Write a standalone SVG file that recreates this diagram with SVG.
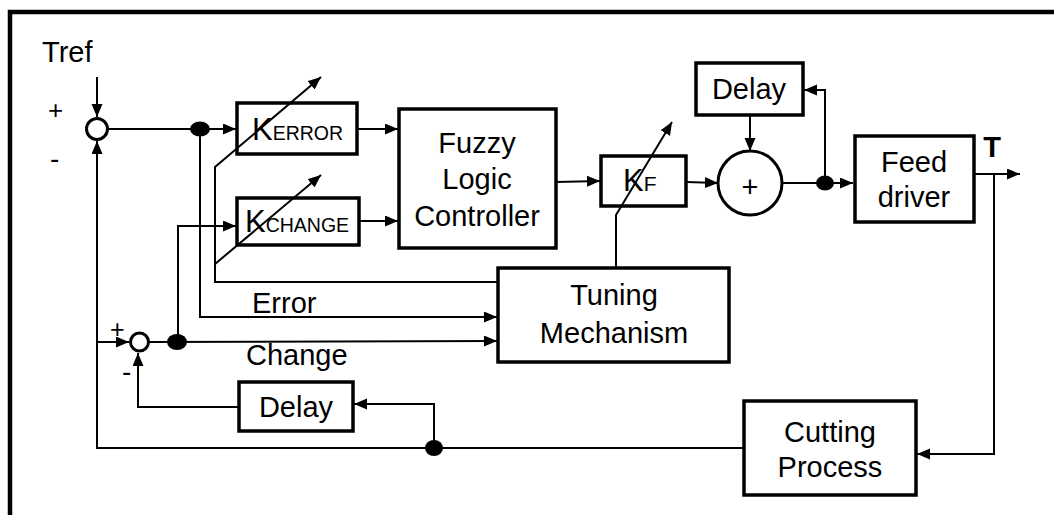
<svg xmlns="http://www.w3.org/2000/svg" width="1054" height="515" viewBox="0 0 1054 515">
<defs>
<marker id="ah" markerUnits="userSpaceOnUse" markerWidth="14" markerHeight="12" refX="13" refY="5.5" orient="auto">
<path d="M0,0 L13,5.5 L0,11 z" fill="#000"/>
</marker>
<style>
.box{fill:#fff;stroke:#000;stroke-width:3.5}
.ln{fill:none;stroke:#000;stroke-width:2}
.arr{fill:none;stroke:#000;stroke-width:2;marker-end:url(#ah)}
.t{font-family:"Liberation Sans",Arial,Helvetica,sans-serif;font-size:29px;fill:#000}
.c{text-anchor:middle}
.dot{fill:#000}
</style>
</defs>
<rect x="0" y="0" width="1054" height="515" fill="#fff"/>
<rect x="10" y="12" width="1070" height="530" fill="none" stroke="#000" stroke-width="4.5"/>

<g id="tref">
<text class="t" x="42" y="62">Tref</text>
<text class="t" x="48" y="119" style="font-size:26px">+</text>
<text class="t" x="50" y="168" style="font-size:28px">-</text>
</g>
<g id="sum1"><circle cx="97" cy="129" r="10.5" fill="#fff" stroke="#000" stroke-width="3"/></g>
<g id="sum2">
<circle cx="139.5" cy="342" r="9" fill="#fff" stroke="#000" stroke-width="3"/>
<text class="t" x="110" y="338" style="font-size:25px">+</text>
<text class="t" x="122" y="381" style="font-size:28px">-</text>
</g>
<g id="kerror">
<rect class="box" x="237" y="103" width="120" height="51"/>
<text class="t" x="252" y="140" style="font-size:31px">K<tspan style="font-size:19.5px">ERROR</tspan></text>
</g>
<g id="kchange">
<rect class="box" x="237" y="198" width="122" height="47"/>
<text class="t" x="245" y="232" style="font-size:31px">K<tspan style="font-size:19.5px">CHANGE</tspan></text>
</g>
<g id="fuzzy">
<rect class="box" x="399" y="109" width="157" height="139"/>
<text class="t c" x="477" y="153">Fuzzy</text>
<text class="t c" x="477" y="189">Logic</text>
<text class="t c" x="477" y="226">Controller</text>
</g>
<g id="kf">
<rect class="box" x="601" y="156" width="85" height="50"/>
<text class="t" x="623" y="191" style="font-size:31px">K<tspan style="font-size:21px">F</tspan></text>
</g>
<g id="sum3">
<circle cx="750" cy="183" r="32" fill="#fff" stroke="#000" stroke-width="3"/>
<text class="t c" x="750" y="197">+</text>
</g>
<g id="delay1">
<rect class="box" x="696" y="63" width="107" height="52"/>
<text class="t c" x="749" y="99">Delay</text>
</g>
<g id="feed">
<rect class="box" x="855" y="136" width="119" height="86"/>
<text class="t c" x="914" y="172">Feed</text>
<text class="t c" x="914" y="207">driver</text>
</g>
<g id="tlabel"><text class="t c" x="992" y="157" style="font-weight:bold">T</text></g>
<g id="tuning">
<rect class="box" x="498" y="268" width="231" height="94"/>
<text class="t c" x="614" y="305">Tuning</text>
<text class="t c" x="614" y="343">Mechanism</text>
</g>
<g id="labels">
<text class="t" x="252" y="313">Error</text>
<text class="t" x="246" y="365">Change</text>
</g>
<g id="delay2">
<rect class="box" x="239" y="382" width="114" height="49"/>
<text class="t c" x="296" y="417">Delay</text>
</g>
<g id="cutting">
<rect class="box" x="744" y="401" width="172" height="94"/>
<text class="t c" x="830" y="442">Cutting</text>
<text class="t c" x="830" y="477">Process</text>
</g>

<g id="connectors">
<path class="arr" d="M97,77 L97,117"/>
<path class="arr" d="M97,448 L97,141"/>
<path class="ln" d="M108,129 L200,129"/>
<path class="arr" d="M200,129 L236,129"/>
<path class="arr" d="M200,129 L200,318 M200,317 L497,317"/>
<path class="arr" d="M357,129 L398,129"/>
<path class="arr" d="M359,221 L398,221"/>
<path class="arr" d="M178,342 L178,226 L236,226"/>
<path class="arr" d="M149,342 L497,341"/>
<path class="arr" d="M97,342 L129,342"/>
<path class="arr" d="M497,282 L215,282 L215,167 L321,77"/>
<path class="arr" d="M215,264 L321,175"/>
<path class="arr" d="M556,182 L600,181"/>
<path class="arr" d="M616,267 L616,215 L672,122"/>
<path class="arr" d="M686,182 L718,183"/>
<path class="arr" d="M750,115 L750,151"/>
<path class="arr" d="M782,183 L853,183"/>
<path class="arr" d="M825,183 L825,90 L804,90"/>
<path class="arr" d="M974,174 L1020,174"/>
<path class="arr" d="M994,174 L994,454 L917,454"/>
<path class="ln" d="M743,448 L96,448"/>
<path class="arr" d="M434,448 L434,404 L354,404"/>
<path class="arr" d="M239,407 L138,407 L138,353"/>
<ellipse class="dot" cx="200" cy="129" rx="10" ry="7.5"/>
<ellipse class="dot" cx="177" cy="342" rx="10" ry="8"/>
<ellipse class="dot" cx="825" cy="183" rx="9" ry="7.5"/>
<ellipse class="dot" cx="434" cy="448" rx="9" ry="8"/>
</g>
</svg>
